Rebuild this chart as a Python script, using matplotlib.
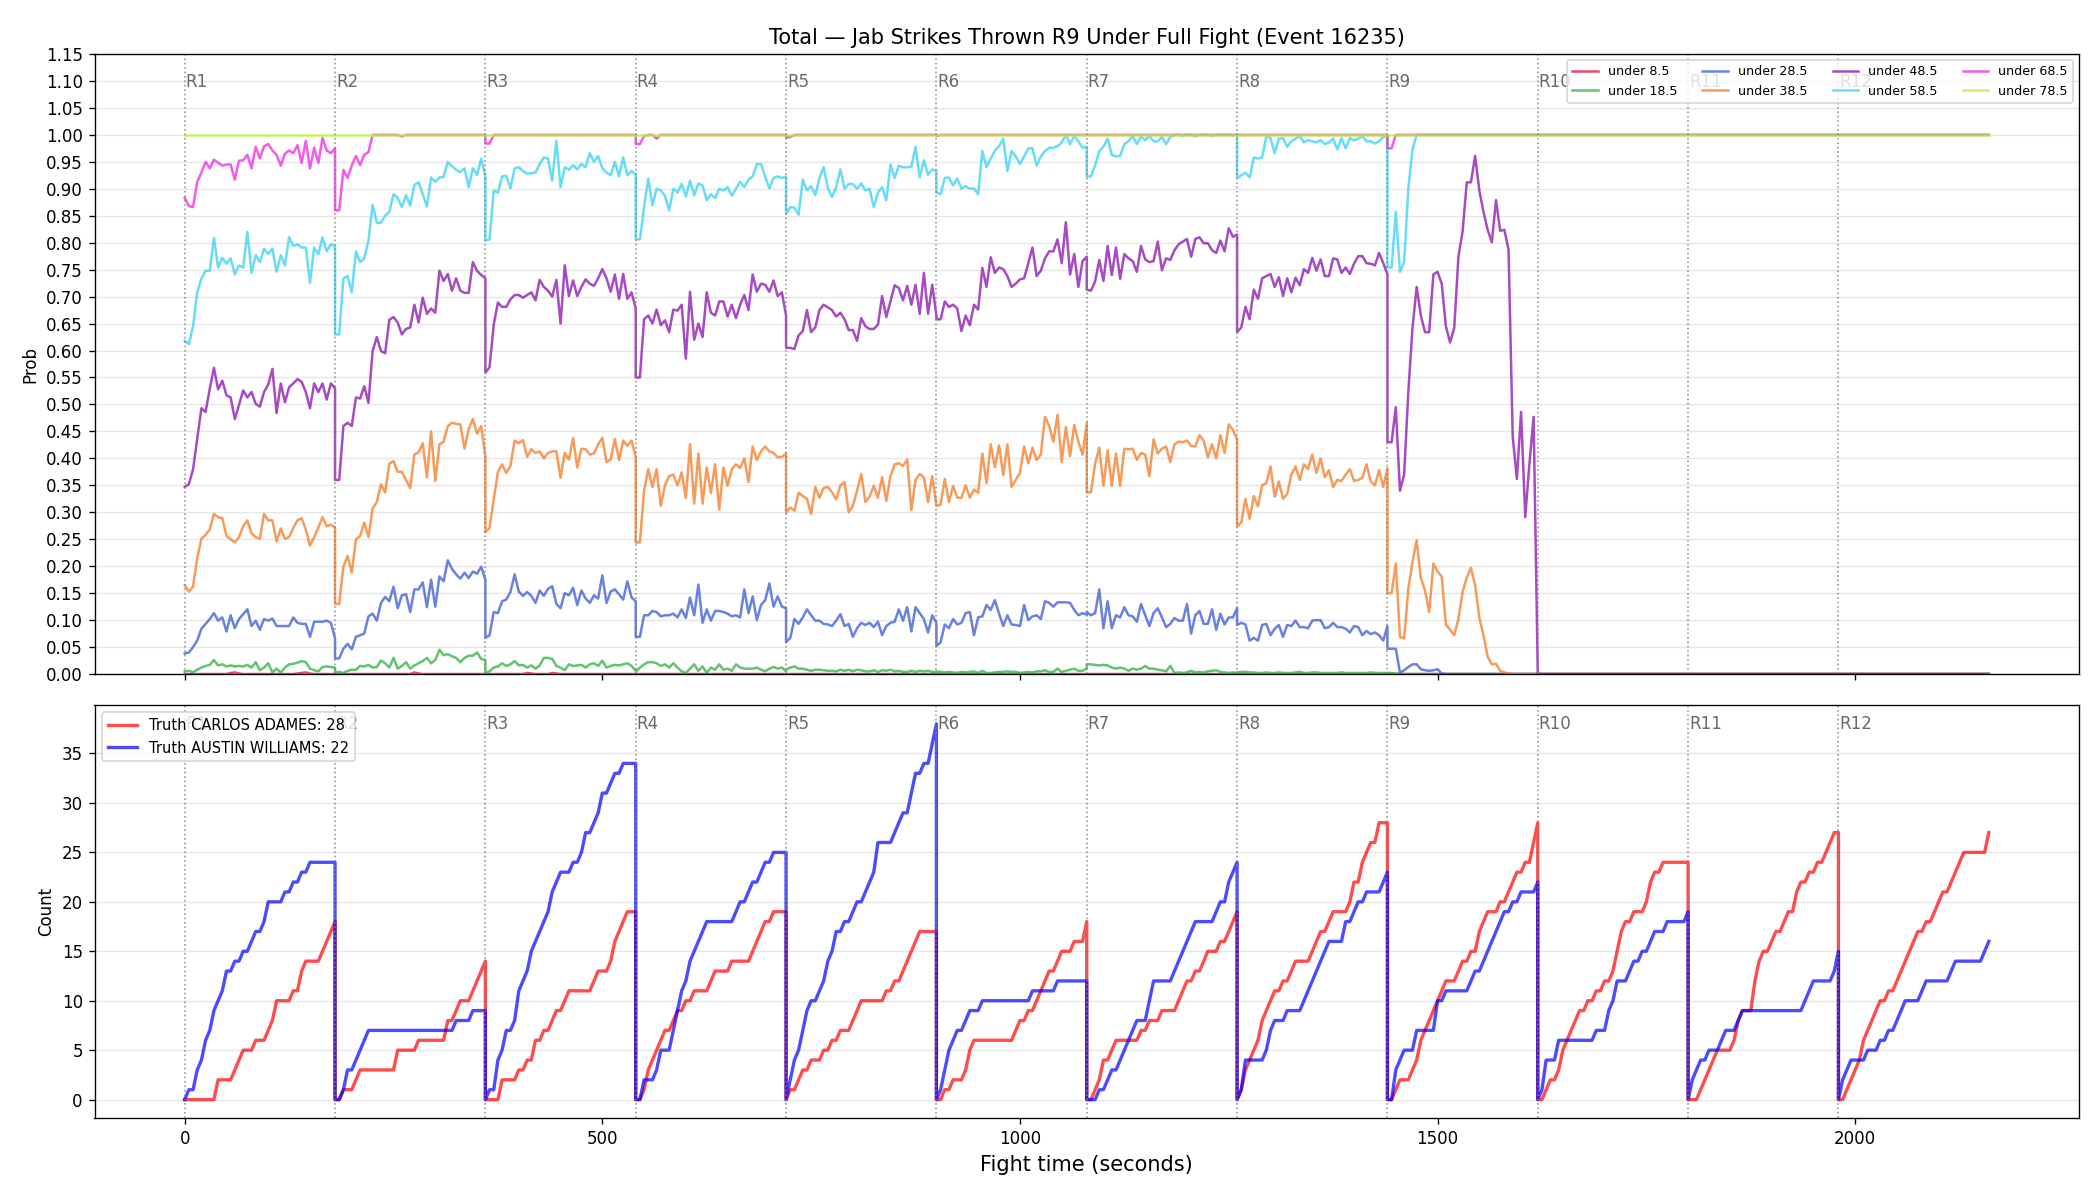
import numpy as np
import matplotlib
matplotlib.use('Agg')
import matplotlib.pyplot as plt

# Rounds of the fight (seconds).
round_names = ['R1', 'R2', 'R3', 'R4', 'R5', 'R6', 'R7', 'R8', 'R9', 'R10', 'R11', 'R12']
round_starts = [0, 180, 360, 540, 720, 900, 1080, 1260, 1440, 1620, 1800, 1980]
round_len = 180
fight_end = 2160

# Probability of "under" each line, one list per round (R1..R9), then settled value to fight end.
under_8_5 = [
    [0, 0, 0, 0, 0, 0, 0, 0, 0, 0, 0, 0.002, 0.003, 0.001, 0, 0, 0, 0, 0, 0, 0, 0, 0, 0, 0, 0, 0, 0.001, 0.002, 0.003, 0.001, 0, 0, 0, 0, 0, 0],
    [0, 0, 0, 0, 0, 0, 0, 0, 0, 0, 0, 0, 0, 0, 0, 0, 0, 0, 0, 0.003, 0.001, 0, 0, 0, 0, 0, 0, 0, 0, 0, 0, 0, 0, 0, 0, 0, 0],
    [0, 0, 0, 0, 0, 0, 0, 0, 0, 0, 0.002, 0.001, 0, 0, 0, 0, 0.002, 0.001, 0, 0, 0, 0, 0, 0, 0, 0, 0, 0, 0, 0, 0, 0, 0, 0, 0, 0, 0],
    [0, 0], [0, 0], [0, 0], [0, 0], [0, 0], [0, 0],
]
under_18_5 = [
    [0.005, 0.006, 0.003, 0.008, 0.012, 0.015, 0.017, 0.026, 0.016, 0.018, 0.014, 0.016, 0.014, 0.015, 0.014, 0.017, 0.012, 0.022, 0.007, 0.012, 0.020, 0.003, 0.010, 0.003, 0.012, 0.018, 0.019, 0.021, 0.024, 0.022, 0.010, 0.007, 0.005, 0.013, 0.014, 0.013, 0.012],
    [0.003, 0.004, 0.002, 0.006, 0.008, 0.008, 0.015, 0.014, 0.017, 0.012, 0.013, 0.025, 0.020, 0.012, 0.030, 0.010, 0.015, 0.022, 0.010, 0.016, 0.020, 0.024, 0.030, 0.020, 0.026, 0.045, 0.035, 0.037, 0.033, 0.030, 0.022, 0.030, 0.034, 0.034, 0.040, 0.028, 0.026],
    [0.002, 0.005, 0.012, 0.014, 0.020, 0.015, 0.018, 0.024, 0.016, 0.017, 0.012, 0.016, 0.010, 0.016, 0.030, 0.030, 0.028, 0.015, 0.012, 0.007, 0.018, 0.015, 0.016, 0.017, 0.012, 0.018, 0.020, 0.015, 0.025, 0.012, 0.015, 0.017, 0.016, 0.018, 0.020, 0.015, 0.006],
    [0.004, 0.012, 0.018, 0.022, 0.022, 0.020, 0.015, 0.018, 0.012, 0.020, 0.012, 0.005, 0.002, 0.010, 0.018, 0.006, 0.014, 0.002, 0.012, 0.008, 0.018, 0.008, 0.010, 0.006, 0.018, 0.012, 0.010, 0.010, 0.010, 0.012, 0.008, 0.005, 0.010, 0.013, 0.010, 0.012, 0.005],
    [0.008, 0.012, 0.014, 0.010, 0.010, 0.008, 0.006, 0.008, 0.008, 0.007, 0.006, 0.006, 0.005, 0.008, 0.006, 0.008, 0.005, 0.008, 0.007, 0.005, 0.005, 0.007, 0.004, 0.007, 0.006, 0.008, 0.005, 0.006, 0.004, 0.004, 0.006, 0.004, 0.006, 0.005, 0.006, 0.004, 0.004],
    [0.005, 0.004, 0.003, 0.004, 0.003, 0.002, 0.004, 0.003, 0.004, 0.005, 0.002, 0.006, 0.002, 0.002, 0.003, 0.004, 0.004, 0.005, 0.004, 0.004, 0.002, 0.003, 0.004, 0.003, 0.005, 0.005, 0.007, 0.004, 0.004, 0.010, 0.004, 0.006, 0.008, 0.010, 0.006, 0.006, 0.010],
    [0.018, 0.018, 0.017, 0.016, 0.017, 0.016, 0.012, 0.010, 0.012, 0.010, 0.006, 0.010, 0.008, 0.010, 0.015, 0.010, 0.010, 0.008, 0.007, 0.005, 0.015, 0.002, 0.003, 0.002, 0.003, 0.006, 0.003, 0.004, 0.003, 0.005, 0.006, 0.007, 0.004, 0.003, 0.002, 0.003, 0.002],
    [0.003, 0.004, 0.004, 0.003, 0.003, 0.002, 0.002, 0.003, 0.002, 0.002, 0.003, 0.002, 0.002, 0.002, 0.003, 0.004, 0.002, 0.002, 0.003, 0.003, 0.002, 0.002, 0.002, 0.002, 0.002, 0.003, 0.002, 0.002, 0.002, 0.002, 0.002, 0.002, 0.003, 0.002, 0.002, 0.002, 0.002],
    [0.002, 0.002, 0.001, 0.001, 0, 0, 0, 0, 0, 0, 0, 0, 0, 0, 0, 0, 0, 0, 0, 0, 0, 0, 0, 0, 0, 0, 0, 0, 0, 0, 0, 0, 0, 0, 0, 0, 0],
]
under_28_5 = [
    [0.038, 0.040, 0.050, 0.062, 0.084, 0.093, 0.102, 0.113, 0.099, 0.105, 0.079, 0.109, 0.085, 0.102, 0.111, 0.120, 0.089, 0.099, 0.082, 0.102, 0.099, 0.103, 0.089, 0.089, 0.089, 0.089, 0.105, 0.095, 0.093, 0.093, 0.069, 0.097, 0.097, 0.097, 0.099, 0.095, 0.066],
    [0.029, 0.029, 0.047, 0.056, 0.046, 0.069, 0.072, 0.075, 0.107, 0.112, 0.099, 0.132, 0.143, 0.135, 0.162, 0.122, 0.146, 0.148, 0.115, 0.157, 0.157, 0.170, 0.124, 0.175, 0.125, 0.181, 0.172, 0.211, 0.195, 0.185, 0.177, 0.188, 0.178, 0.190, 0.186, 0.199, 0.175],
    [0.067, 0.072, 0.115, 0.113, 0.135, 0.138, 0.152, 0.185, 0.153, 0.145, 0.152, 0.145, 0.132, 0.155, 0.145, 0.158, 0.163, 0.130, 0.122, 0.150, 0.146, 0.160, 0.128, 0.155, 0.140, 0.132, 0.146, 0.140, 0.183, 0.132, 0.153, 0.157, 0.148, 0.138, 0.172, 0.142, 0.135],
    [0.069, 0.069, 0.109, 0.109, 0.117, 0.115, 0.107, 0.109, 0.109, 0.112, 0.105, 0.120, 0.104, 0.142, 0.109, 0.166, 0.095, 0.120, 0.099, 0.117, 0.117, 0.115, 0.112, 0.107, 0.109, 0.105, 0.157, 0.113, 0.144, 0.100, 0.128, 0.137, 0.168, 0.125, 0.144, 0.125, 0.122],
    [0.059, 0.067, 0.102, 0.093, 0.105, 0.120, 0.109, 0.099, 0.099, 0.093, 0.092, 0.089, 0.099, 0.111, 0.089, 0.093, 0.069, 0.085, 0.095, 0.091, 0.095, 0.087, 0.097, 0.072, 0.089, 0.095, 0.097, 0.120, 0.099, 0.124, 0.079, 0.124, 0.113, 0.102, 0.077, 0.109, 0.095],
    [0.052, 0.059, 0.092, 0.085, 0.102, 0.092, 0.095, 0.113, 0.115, 0.072, 0.105, 0.107, 0.128, 0.119, 0.137, 0.112, 0.089, 0.109, 0.092, 0.091, 0.089, 0.128, 0.100, 0.107, 0.109, 0.102, 0.135, 0.132, 0.125, 0.133, 0.133, 0.133, 0.132, 0.119, 0.109, 0.113, 0.110],
    [0.115, 0.109, 0.113, 0.157, 0.085, 0.135, 0.085, 0.109, 0.105, 0.124, 0.109, 0.107, 0.097, 0.130, 0.109, 0.089, 0.113, 0.122, 0.105, 0.087, 0.093, 0.104, 0.099, 0.099, 0.130, 0.075, 0.109, 0.117, 0.093, 0.093, 0.120, 0.082, 0.112, 0.092, 0.105, 0.105, 0.122],
    [0.091, 0.095, 0.092, 0.062, 0.067, 0.062, 0.091, 0.093, 0.072, 0.084, 0.091, 0.069, 0.091, 0.089, 0.099, 0.087, 0.087, 0.085, 0.099, 0.100, 0.100, 0.085, 0.087, 0.095, 0.087, 0.087, 0.084, 0.077, 0.089, 0.087, 0.072, 0.080, 0.074, 0.077, 0.072, 0.062, 0.089],
    [0.047, 0.047, 0.047, 0.003, 0.007, 0.013, 0.018, 0.018, 0.009, 0.007, 0.006, 0.007, 0.009, 0.001, 0, 0, 0, 0, 0, 0, 0, 0, 0, 0, 0, 0, 0, 0, 0, 0, 0, 0, 0, 0, 0, 0, 0],
]
under_38_5 = [
    [0.165, 0.153, 0.162, 0.215, 0.251, 0.258, 0.268, 0.297, 0.291, 0.289, 0.256, 0.250, 0.244, 0.254, 0.274, 0.285, 0.261, 0.254, 0.251, 0.297, 0.285, 0.285, 0.246, 0.270, 0.251, 0.254, 0.271, 0.285, 0.289, 0.268, 0.238, 0.254, 0.272, 0.291, 0.274, 0.277, 0.272],
    [0.130, 0.130, 0.199, 0.219, 0.188, 0.250, 0.256, 0.281, 0.254, 0.307, 0.319, 0.352, 0.337, 0.390, 0.395, 0.375, 0.375, 0.360, 0.345, 0.407, 0.411, 0.428, 0.365, 0.450, 0.358, 0.426, 0.431, 0.460, 0.466, 0.464, 0.463, 0.418, 0.454, 0.473, 0.446, 0.460, 0.403],
    [0.263, 0.271, 0.324, 0.375, 0.389, 0.373, 0.386, 0.433, 0.428, 0.434, 0.403, 0.417, 0.410, 0.413, 0.400, 0.410, 0.413, 0.413, 0.364, 0.410, 0.398, 0.438, 0.383, 0.418, 0.417, 0.407, 0.409, 0.426, 0.438, 0.393, 0.398, 0.436, 0.397, 0.433, 0.423, 0.433, 0.403],
    [0.244, 0.244, 0.340, 0.380, 0.347, 0.380, 0.312, 0.350, 0.367, 0.370, 0.350, 0.374, 0.327, 0.426, 0.316, 0.409, 0.316, 0.383, 0.336, 0.389, 0.305, 0.383, 0.349, 0.380, 0.389, 0.382, 0.400, 0.356, 0.422, 0.397, 0.413, 0.422, 0.413, 0.410, 0.402, 0.403, 0.409],
    [0.299, 0.309, 0.303, 0.336, 0.330, 0.325, 0.297, 0.347, 0.327, 0.345, 0.347, 0.337, 0.324, 0.350, 0.356, 0.300, 0.312, 0.340, 0.371, 0.319, 0.329, 0.349, 0.327, 0.365, 0.321, 0.367, 0.389, 0.391, 0.386, 0.398, 0.304, 0.360, 0.371, 0.365, 0.319, 0.367, 0.312],
    [0.312, 0.314, 0.362, 0.319, 0.349, 0.327, 0.327, 0.350, 0.327, 0.342, 0.336, 0.409, 0.354, 0.426, 0.384, 0.424, 0.369, 0.426, 0.347, 0.360, 0.373, 0.422, 0.391, 0.420, 0.397, 0.407, 0.477, 0.460, 0.431, 0.481, 0.393, 0.458, 0.404, 0.462, 0.431, 0.407, 0.466],
    [0.337, 0.337, 0.390, 0.420, 0.349, 0.415, 0.349, 0.409, 0.349, 0.418, 0.417, 0.418, 0.397, 0.410, 0.407, 0.367, 0.435, 0.409, 0.418, 0.422, 0.393, 0.426, 0.431, 0.430, 0.433, 0.423, 0.422, 0.443, 0.433, 0.402, 0.426, 0.400, 0.443, 0.410, 0.463, 0.453, 0.435],
    [0.274, 0.281, 0.325, 0.288, 0.330, 0.311, 0.350, 0.354, 0.385, 0.329, 0.357, 0.325, 0.334, 0.370, 0.385, 0.360, 0.389, 0.380, 0.407, 0.373, 0.400, 0.365, 0.378, 0.347, 0.360, 0.358, 0.370, 0.380, 0.358, 0.360, 0.364, 0.389, 0.357, 0.350, 0.378, 0.347, 0.382],
    [0.150, 0.150, 0.205, 0.069, 0.066, 0.158, 0.208, 0.248, 0.178, 0.155, 0.115, 0.205, 0.190, 0.181, 0.092, 0.082, 0.072, 0.102, 0.152, 0.179, 0.197, 0.165, 0.105, 0.072, 0.032, 0.018, 0.019, 0.006, 0.003, 0.001, 0, 0, 0, 0, 0, 0, 0],
]
under_48_5 = [
    [0.347, 0.352, 0.380, 0.436, 0.493, 0.486, 0.529, 0.568, 0.528, 0.544, 0.517, 0.513, 0.473, 0.499, 0.526, 0.513, 0.523, 0.501, 0.496, 0.523, 0.537, 0.566, 0.484, 0.539, 0.504, 0.532, 0.539, 0.547, 0.542, 0.523, 0.493, 0.539, 0.523, 0.539, 0.509, 0.539, 0.530],
    [0.360, 0.360, 0.460, 0.466, 0.460, 0.513, 0.511, 0.534, 0.503, 0.599, 0.625, 0.599, 0.595, 0.657, 0.662, 0.652, 0.630, 0.640, 0.643, 0.685, 0.652, 0.698, 0.668, 0.678, 0.670, 0.748, 0.729, 0.742, 0.711, 0.734, 0.711, 0.707, 0.707, 0.764, 0.748, 0.740, 0.734],
    [0.559, 0.569, 0.648, 0.689, 0.681, 0.681, 0.695, 0.703, 0.703, 0.698, 0.703, 0.708, 0.693, 0.731, 0.718, 0.711, 0.700, 0.731, 0.650, 0.758, 0.701, 0.730, 0.701, 0.718, 0.732, 0.724, 0.720, 0.734, 0.751, 0.734, 0.709, 0.741, 0.696, 0.742, 0.696, 0.708, 0.678],
    [0.550, 0.550, 0.658, 0.665, 0.650, 0.676, 0.647, 0.656, 0.634, 0.676, 0.674, 0.685, 0.585, 0.709, 0.620, 0.650, 0.625, 0.708, 0.670, 0.665, 0.691, 0.691, 0.663, 0.685, 0.660, 0.685, 0.703, 0.675, 0.741, 0.709, 0.724, 0.722, 0.709, 0.730, 0.701, 0.708, 0.665],
    [0.605, 0.605, 0.603, 0.628, 0.636, 0.675, 0.634, 0.643, 0.675, 0.685, 0.680, 0.675, 0.663, 0.670, 0.658, 0.638, 0.638, 0.618, 0.660, 0.645, 0.640, 0.640, 0.648, 0.701, 0.662, 0.691, 0.721, 0.716, 0.693, 0.720, 0.685, 0.722, 0.668, 0.744, 0.668, 0.722, 0.665],
    [0.658, 0.658, 0.691, 0.681, 0.685, 0.678, 0.636, 0.665, 0.647, 0.685, 0.676, 0.753, 0.718, 0.773, 0.744, 0.754, 0.751, 0.738, 0.718, 0.724, 0.732, 0.734, 0.762, 0.791, 0.738, 0.748, 0.771, 0.784, 0.784, 0.806, 0.762, 0.838, 0.741, 0.779, 0.718, 0.766, 0.774],
    [0.713, 0.711, 0.728, 0.768, 0.729, 0.794, 0.740, 0.791, 0.733, 0.779, 0.771, 0.766, 0.746, 0.794, 0.769, 0.764, 0.766, 0.802, 0.749, 0.771, 0.768, 0.786, 0.797, 0.802, 0.807, 0.774, 0.807, 0.810, 0.799, 0.799, 0.786, 0.781, 0.804, 0.784, 0.827, 0.811, 0.815],
    [0.634, 0.643, 0.681, 0.658, 0.713, 0.696, 0.734, 0.738, 0.742, 0.718, 0.736, 0.701, 0.734, 0.708, 0.735, 0.721, 0.751, 0.744, 0.772, 0.748, 0.769, 0.738, 0.738, 0.771, 0.769, 0.744, 0.754, 0.742, 0.761, 0.775, 0.775, 0.762, 0.761, 0.758, 0.781, 0.762, 0.742],
    [0.430, 0.430, 0.495, 0.340, 0.370, 0.523, 0.642, 0.718, 0.665, 0.634, 0.634, 0.741, 0.746, 0.724, 0.645, 0.615, 0.642, 0.774, 0.821, 0.912, 0.912, 0.961, 0.897, 0.857, 0.824, 0.801, 0.879, 0.822, 0.824, 0.787, 0.440, 0.362, 0.486, 0.291, 0.390, 0.477, 0.0],
]
under_58_5 = [
    [0.618, 0.612, 0.645, 0.708, 0.734, 0.748, 0.748, 0.809, 0.754, 0.772, 0.761, 0.771, 0.741, 0.758, 0.754, 0.820, 0.744, 0.777, 0.764, 0.789, 0.779, 0.789, 0.746, 0.777, 0.758, 0.810, 0.794, 0.797, 0.791, 0.791, 0.726, 0.791, 0.779, 0.810, 0.784, 0.797, 0.793],
    [0.630, 0.630, 0.734, 0.738, 0.708, 0.784, 0.764, 0.771, 0.804, 0.870, 0.837, 0.837, 0.850, 0.857, 0.890, 0.883, 0.866, 0.888, 0.869, 0.907, 0.912, 0.890, 0.867, 0.921, 0.913, 0.921, 0.922, 0.950, 0.942, 0.935, 0.931, 0.938, 0.903, 0.938, 0.926, 0.956, 0.923],
    [0.804, 0.806, 0.897, 0.893, 0.923, 0.924, 0.901, 0.938, 0.940, 0.933, 0.928, 0.929, 0.930, 0.946, 0.958, 0.956, 0.915, 0.989, 0.903, 0.940, 0.935, 0.944, 0.936, 0.946, 0.940, 0.966, 0.950, 0.961, 0.938, 0.930, 0.925, 0.950, 0.923, 0.958, 0.925, 0.933, 0.926],
    [0.807, 0.806, 0.867, 0.919, 0.869, 0.900, 0.897, 0.887, 0.860, 0.900, 0.893, 0.909, 0.886, 0.915, 0.888, 0.910, 0.906, 0.879, 0.890, 0.883, 0.900, 0.897, 0.903, 0.887, 0.900, 0.913, 0.903, 0.917, 0.923, 0.946, 0.946, 0.922, 0.901, 0.920, 0.923, 0.920, 0.923],
    [0.854, 0.866, 0.865, 0.852, 0.917, 0.897, 0.905, 0.888, 0.920, 0.940, 0.901, 0.885, 0.903, 0.936, 0.900, 0.909, 0.909, 0.900, 0.910, 0.897, 0.900, 0.866, 0.893, 0.903, 0.879, 0.945, 0.920, 0.943, 0.940, 0.940, 0.941, 0.978, 0.921, 0.953, 0.926, 0.936, 0.933],
    [0.893, 0.890, 0.920, 0.921, 0.906, 0.919, 0.900, 0.905, 0.900, 0.901, 0.890, 0.970, 0.940, 0.956, 0.970, 0.979, 0.993, 0.933, 0.970, 0.960, 0.946, 0.960, 0.975, 0.975, 0.943, 0.960, 0.970, 0.976, 0.976, 0.979, 0.986, 1.000, 0.983, 0.998, 0.988, 0.976, 0.978],
    [0.923, 0.923, 0.943, 0.970, 0.978, 0.993, 0.963, 0.960, 0.961, 0.983, 0.988, 0.998, 0.983, 0.997, 0.990, 0.998, 0.988, 0.988, 0.996, 0.983, 0.996, 1.000, 1.000, 0.998, 1.000, 1.000, 0.997, 1.000, 1.000, 1.000, 0.998, 1.000, 1.000, 1.000, 1.000, 0.999, 1.000],
    [0.920, 0.925, 0.930, 0.921, 0.958, 0.956, 0.958, 0.998, 0.994, 0.966, 0.993, 0.994, 0.978, 0.988, 0.993, 0.998, 0.986, 0.990, 0.988, 0.986, 0.990, 0.983, 0.986, 0.993, 0.973, 0.994, 0.975, 0.994, 0.990, 0.993, 0.998, 0.988, 0.988, 0.984, 0.988, 0.996, 0.998],
    [0.754, 0.754, 0.857, 0.746, 0.764, 0.900, 0.973, 1, 1, 1, 1, 1, 1, 1, 1, 1, 1, 1, 1, 1, 1, 1, 1, 1, 1, 1, 1, 1, 1, 1, 1, 1, 1, 1, 1, 1, 1],
]
under_68_5 = [
    [0.883, 0.868, 0.866, 0.913, 0.930, 0.950, 0.938, 0.954, 0.948, 0.943, 0.945, 0.945, 0.917, 0.952, 0.953, 0.963, 0.938, 0.978, 0.956, 0.979, 0.983, 0.971, 0.963, 0.943, 0.965, 0.971, 0.966, 0.981, 0.948, 0.989, 0.938, 0.976, 0.948, 0.994, 0.971, 0.966, 0.975],
    [0.860, 0.860, 0.935, 0.920, 0.943, 0.961, 0.944, 0.963, 0.968, 1, 1, 1, 1, 1, 1, 1, 0.997, 1, 1, 1, 1, 1, 1, 1, 1, 1, 1, 1, 1, 1, 1, 1, 1, 1, 1, 1, 1],
    [0.984, 0.984, 1, 1, 1, 1, 1, 1, 1, 1, 1, 1, 1, 1, 1, 1, 1, 1, 1, 1, 1, 1, 1, 1, 1, 1, 1, 1, 1, 1, 1, 1, 1, 1, 1, 1, 1],
    [0.983, 0.983, 0.998, 1, 1, 0.993, 1, 1, 1, 1, 1, 1, 1, 1, 1, 1, 1, 1, 1, 1, 1, 1, 1, 1, 1, 1, 1, 1, 1, 1, 1, 1, 1, 1, 1, 1, 1],
    [0.995, 0.996, 1, 1, 1, 1, 1, 1, 1, 1, 1, 1, 1, 1, 1, 1, 1, 1, 1, 1, 1, 1, 1, 1, 1, 1, 1, 1, 1, 1, 1, 1, 1, 1, 1, 1, 1],
    [0.998, 1, 1, 1, 1, 1, 1, 1, 1, 1, 1, 1, 1, 1, 1, 1, 1, 1, 1, 1, 1, 1, 1, 1, 1, 1, 1, 1, 1, 1, 1, 1, 1, 1, 1, 1, 1],
    [1, 1],
    [1, 1],
    [0.975, 0.975, 1, 1, 1, 1, 1, 1, 1, 1, 1, 1, 1, 1, 1, 1, 1, 1, 1, 1, 1, 1, 1, 1, 1, 1, 1, 1, 1, 1, 1, 1, 1, 1, 1, 1, 1],
]
under_78_5 = [[1, 1], [1, 1], [1, 1], [1, 1], [1, 1], [1, 1], [1, 1], [1, 1], [1, 1]]

prob_series = [under_8_5, under_18_5, under_28_5, under_38_5,
               under_48_5, under_58_5, under_68_5, under_78_5]
prob_labels = ['under 8.5', 'under 18.5', 'under 28.5', 'under 38.5',
               'under 48.5', 'under 58.5', 'under 68.5', 'under 78.5']
settled_values = [0, 0, 0, 0, 0, 1, 1, 1]
prob_colors = ['#e6194B', '#3cb44b', '#4363d8', '#f58231',
               '#911eb4', '#42d4f4', '#f032e6', '#bfef45']

# Truth jab counts per round (reset at each round).
carlos_counts = [
    [0, 0, 0, 0, 0, 0, 0, 0, 2, 2, 2, 2, 3, 4, 5, 5, 5, 6, 6, 6, 7, 8, 10, 10, 10, 10, 11, 11, 13, 14, 14, 14, 14, 15, 16, 17, 18],
    [0, 0, 1, 1, 1, 2, 3, 3, 3, 3, 3, 3, 3, 3, 3, 5, 5, 5, 5, 5, 6, 6, 6, 6, 6, 6, 6, 8, 8, 9, 10, 10, 10, 11, 12, 13, 14],
    [0, 0, 0, 0, 2, 2, 2, 2, 3, 3, 4, 4, 6, 6, 7, 7, 8, 9, 9, 10, 11, 11, 11, 11, 11, 11, 12, 13, 13, 13, 14, 16, 17, 18, 19, 19, 19],
    [0, 0, 1, 3, 4, 5, 6, 7, 7, 8, 9, 9, 10, 10, 11, 11, 11, 11, 12, 13, 13, 13, 13, 14, 14, 14, 14, 14, 15, 16, 17, 18, 18, 19, 19, 19, 19],
    [0, 1, 1, 2, 3, 3, 4, 4, 4, 5, 5, 6, 6, 7, 7, 7, 8, 9, 10, 10, 10, 10, 10, 10, 11, 11, 12, 12, 13, 14, 15, 16, 17, 17, 17, 17, 17],
    [0, 0, 1, 1, 2, 2, 2, 3, 5, 6, 6, 6, 6, 6, 6, 6, 6, 6, 6, 7, 8, 8, 9, 9, 10, 11, 12, 13, 13, 14, 15, 15, 15, 16, 16, 16, 18],
    [0, 0, 1, 2, 4, 4, 5, 6, 6, 6, 6, 6, 6, 7, 7, 8, 8, 8, 9, 9, 9, 9, 10, 11, 12, 12, 13, 13, 14, 15, 15, 15, 16, 16, 17, 18, 19],
    [0, 1, 3, 4, 5, 6, 8, 9, 10, 11, 11, 12, 12, 13, 14, 14, 14, 14, 15, 16, 17, 17, 18, 19, 19, 19, 19, 20, 22, 22, 24, 25, 26, 26, 28, 28, 28],
    [0, 0, 1, 2, 2, 2, 3, 4, 6, 7, 8, 9, 10, 11, 12, 12, 12, 13, 14, 14, 15, 15, 17, 18, 19, 19, 19, 20, 20, 21, 22, 23, 23, 24, 24, 26, 28],
    [0, 0, 1, 2, 2, 3, 5, 6, 7, 8, 9, 9, 10, 10, 11, 11, 12, 12, 13, 15, 17, 18, 18, 19, 19, 19, 20, 22, 23, 23, 24, 24, 24, 24, 24, 24, 24],
    [0, 0, 0, 1, 2, 3, 4, 5, 5, 5, 5, 6, 8, 9, 9, 9, 12, 14, 15, 15, 16, 17, 17, 18, 19, 19, 21, 22, 22, 23, 23, 24, 24, 25, 26, 27, 27],
    [0, 0, 1, 2, 3, 4, 6, 7, 8, 9, 10, 10, 11, 11, 12, 13, 14, 15, 16, 17, 17, 18, 18, 19, 20, 21, 21, 22, 23, 24, 25, 25, 25, 25, 25, 25, 27],
]
austin_counts = [
    [0, 1, 1, 3, 4, 6, 7, 9, 10, 11, 13, 13, 14, 14, 15, 15, 16, 17, 17, 18, 20, 20, 20, 20, 21, 21, 22, 22, 23, 23, 24, 24, 24, 24, 24, 24, 24],
    [0, 0, 1, 3, 3, 4, 5, 6, 7, 7, 7, 7, 7, 7, 7, 7, 7, 7, 7, 7, 7, 7, 7, 7, 7, 7, 7, 7, 7, 8, 8, 8, 8, 9, 9, 9, 9],
    [0, 1, 1, 4, 5, 7, 7, 8, 11, 12, 13, 15, 16, 17, 18, 19, 21, 22, 23, 23, 23, 24, 24, 25, 27, 27, 28, 29, 31, 31, 32, 33, 33, 34, 34, 34, 34],
    [0, 0, 2, 2, 2, 3, 5, 5, 5, 7, 9, 11, 12, 14, 15, 16, 17, 18, 18, 18, 18, 18, 18, 18, 19, 20, 20, 21, 22, 22, 23, 24, 24, 25, 25, 25, 25],
    [0, 2, 4, 5, 7, 9, 10, 10, 11, 12, 14, 15, 17, 17, 18, 18, 19, 20, 20, 21, 22, 23, 26, 26, 26, 26, 27, 28, 29, 29, 31, 33, 33, 34, 34, 36, 38],
    [0, 1, 3, 5, 6, 7, 7, 8, 9, 9, 9, 10, 10, 10, 10, 10, 10, 10, 10, 10, 10, 10, 10, 11, 11, 11, 11, 11, 11, 12, 12, 12, 12, 12, 12, 12, 12],
    [0, 0, 0, 1, 1, 2, 3, 3, 4, 5, 6, 7, 8, 8, 8, 10, 12, 12, 12, 12, 12, 13, 14, 15, 16, 17, 18, 18, 18, 18, 18, 19, 20, 20, 22, 23, 24],
    [0, 1, 4, 4, 4, 4, 4, 5, 7, 8, 8, 8, 9, 9, 9, 9, 10, 11, 12, 13, 14, 15, 16, 16, 16, 16, 18, 18, 19, 20, 20, 21, 21, 21, 21, 22, 23],
    [0, 0, 3, 4, 5, 5, 5, 7, 7, 7, 7, 7, 10, 10, 11, 11, 11, 11, 11, 11, 12, 13, 13, 14, 15, 16, 17, 18, 19, 19, 20, 20, 21, 21, 21, 21, 22],
    [0, 1, 4, 4, 4, 6, 6, 6, 6, 6, 6, 6, 6, 6, 7, 7, 7, 9, 10, 12, 12, 12, 13, 14, 14, 15, 15, 16, 17, 17, 17, 18, 18, 18, 18, 18, 19],
    [0, 2, 3, 4, 4, 5, 5, 5, 6, 7, 7, 7, 8, 9, 9, 9, 9, 9, 9, 9, 9, 9, 9, 9, 9, 9, 9, 9, 10, 11, 12, 12, 12, 12, 12, 13, 15],
    [0, 2, 3, 4, 4, 4, 4, 5, 5, 5, 6, 6, 7, 7, 8, 9, 10, 10, 10, 10, 11, 12, 12, 12, 12, 12, 12, 13, 14, 14, 14, 14, 14, 14, 14, 15, 16],
]
carlos_total_r9 = 28
austin_total_r9 = 22


def stitch(rounds, settle=None):
    # Join the per-round samples into one time series.
    ts, vs = [], []
    for i, vals in enumerate(rounds):
        start = round_starts[i]
        ts.extend(np.linspace(start, start + round_len, len(vals)))
        vs.extend(vals)
    if settle is not None:
        ts.append(fight_end)
        vs.append(settle)
    return ts, vs


fig, (ax1, ax2) = plt.subplots(2, 1, sharex=True, figsize=(17.5, 10), dpi=120,
                               gridspec_kw={'height_ratios': [3, 2]})
fig.subplots_adjust(left=0.045, right=0.99, top=0.955, bottom=0.068, hspace=0.06)

# Top: probabilities.
for series, label, color, settle in zip(prob_series, prob_labels, prob_colors, settled_values):
    t, v = stitch(series, settle)
    ax1.plot(t, v, color=color, lw=1.5, alpha=0.8, label=label)

ax1.set_ylim(0, 1.15)
ax1.set_yticks(np.arange(0, 1.151, 0.05))
ax1.set_ylabel('Prob')
ax1.set_title('Total \u2014 Jab Strikes Thrown R9 Under Full Fight (Event 16235)', fontsize=12.5)
ax1.grid(axis='y', alpha=0.3)
ax1.legend(loc='upper right', ncol=4, fontsize=7.6)

# Bottom: truth counts.
t, v = stitch(carlos_counts)
ax2.plot(t, v, color='red', lw=2, alpha=0.7, label=f'Truth CARLOS ADAMES: {carlos_total_r9}')
t, v = stitch(austin_counts)
ax2.plot(t, v, color='blue', lw=2, alpha=0.7, label=f'Truth AUSTIN WILLIAMS: {austin_total_r9}')
ax2.set_ylabel('Count')
ax2.set_xlabel('Fight time (seconds)', fontsize=12.5)
ax2.grid(axis='y', alpha=0.3)
ax2.legend(loc='upper left', fontsize=8.8)

# Round markers.
for ax in (ax1, ax2):
    for name, start in zip(round_names, round_starts):
        ax.axvline(start, color='gray', ls=':', lw=1, alpha=0.8)
        ax.text(start + 1, 0.955, name, transform=ax.get_xaxis_transform(),
                ha='left', va='center', fontsize=10, color='dimgray')

fig.savefig('out.png', dpi=120)
